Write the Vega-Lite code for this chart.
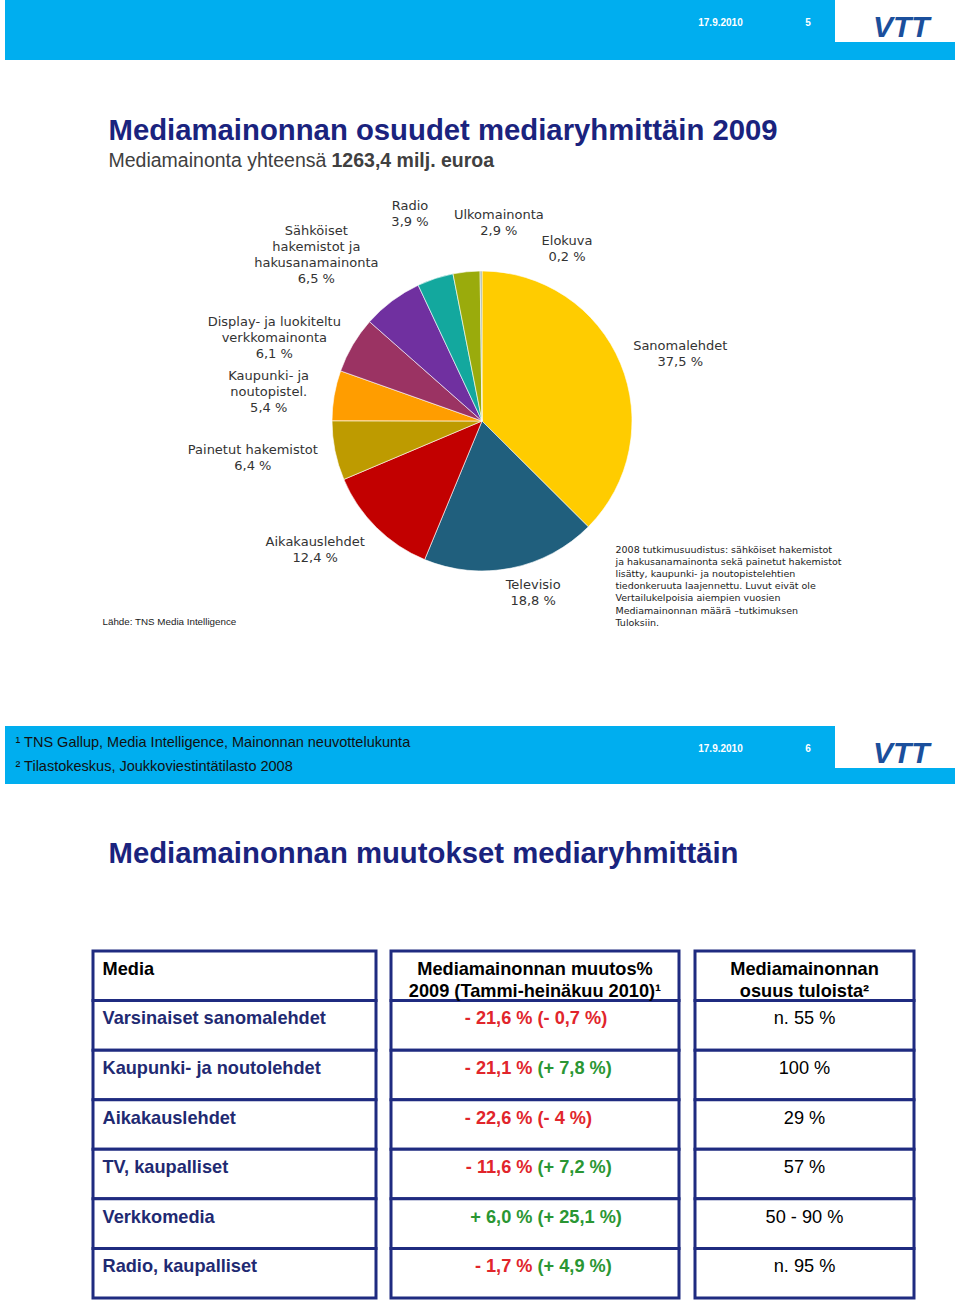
{
"$schema":"https://vega.github.io/schema/vega-lite/v6.json",
"background":"#ffffff",
"padding":{"left":5,"top":0,"right":0,"bottom":0},
"bounds":"flush",
"spacing":0,
"resolve":{"scale":{"color":"independent","opacity":"independent","theta":"independent","y":"independent"}},
"data":{"values":[{}]},
"datasets":{
 "mediaosuudet":[
  {"media":"Sanomalehdet","osuus":37.5,"jarjestys":1,"selite":"Sanomalehdet\n37,5 %"},
  {"media":"Televisio","osuus":18.8,"jarjestys":2,"selite":"Televisio\n18,8 %"},
  {"media":"Aikakauslehdet","osuus":12.4,"jarjestys":3,"selite":"Aikakauslehdet\n12,4 %"},
  {"media":"Painetut hakemistot","osuus":6.4,"jarjestys":4,"selite":"Painetut hakemistot\n6,4 %"},
  {"media":"Kaupunki- ja noutopistel.","osuus":5.4,"jarjestys":5,"selite":"Kaupunki- ja\nnoutopistel.\n5,4 %"},
  {"media":"Display- ja luokiteltu verkkomainonta","osuus":6.1,"jarjestys":6,"selite":"Display- ja luokiteltu\nverkkomainonta\n6,1 %"},
  {"media":"Sähköiset hakemistot ja hakusanamainonta","osuus":6.5,"jarjestys":7,"selite":"Sähköiset\nhakemistot ja\nhakusanamainonta\n6,5 %"},
  {"media":"Radio","osuus":3.9,"jarjestys":8,"selite":"Radio\n3,9 %"},
  {"media":"Ulkomainonta","osuus":2.9,"jarjestys":9,"selite":"Ulkomainonta\n2,9 %"},
  {"media":"Elokuva","osuus":0.2,"jarjestys":10,"selite":"Elokuva\n0,2 %"}
 ],
 "otsikot":[
  {"media":"Media","sarake1":"Media","sarake2":"Mediamainonnan muutos%\n2009 (Tammi-heinäkuu 2010)¹","sarake3":"Mediamainonnan\nosuus tuloista²"}
 ],
 "taulukko":[
  {"media":"Varsinaiset sanomalehdet","muutos2009":"- 21,6 %","suunta2009":"lasku","muutos2010":"(- 0,7 %)","suunta2010":"lasku","osuus":"n. 55 %"},
  {"media":"Kaupunki- ja noutolehdet","muutos2009":"- 21,1 %","suunta2009":"lasku","muutos2010":"(+ 7,8 %)","suunta2010":"kasvu","osuus":"100 %"},
  {"media":"Aikakauslehdet","muutos2009":"- 22,6 %","suunta2009":"lasku","muutos2010":"(- 4 %)","suunta2010":"lasku","osuus":"29 %"},
  {"media":"TV, kaupalliset","muutos2009":"- 11,6 %","suunta2009":"lasku","muutos2010":"(+ 7,2 %)","suunta2010":"kasvu","osuus":"57 %"},
  {"media":"Verkkomedia","muutos2009":"+ 6,0 %","suunta2009":"kasvu","muutos2010":"(+ 25,1 %)","suunta2010":"kasvu","osuus":"50 - 90 %"},
  {"media":"Radio, kaupalliset","muutos2009":"- 1,7 %","suunta2009":"lasku","muutos2010":"(+ 4,9 %)","suunta2010":"kasvu","osuus":"n. 95 %"}
 ]
},
"config":{"view":{"stroke":null},"text":{"font":"Liberation Sans"},"concat":{"spacing":0}},
"vconcat":[
 {"bounds":"flush","spacing":0,"hconcat":[
  {"width":655,"height":42,"view":{"fill":"#00aeef"},"mark":{"type":"text","text":""}},
  {"width":121,"height":45,"view":{"fill":"#00aeef"},"mark":{"type":"text","text":"17.9.2010","fontSize":10,"fontWeight":"bold","color":"#ffffff","align":"center","baseline":"middle"}},
  {"width":54,"height":45,"view":{"fill":"#00aeef"},"mark":{"type":"text","text":"5","fontSize":10,"fontWeight":"bold","color":"#ffffff","align":"center","baseline":"middle"}},
  {"width":3,"height":42,"mark":{"type":"text","text":""}},
  {"width":70,"height":74,"mark":{"type":"text","text":"VTT","fontSize":30,"fontWeight":"bold","fontStyle":"italic","color":"#1b4f9c","align":"left","baseline":"alphabetic"}}
 ]},
 {"width":1,"height":42,"mark":{"type":"text","text":""}},
 {"width":950,"height":18,"view":{"fill":"#00aeef"},"mark":{"type":"text","text":""}},
 {"width":1,"height":60,"mark":{"type":"text","text":""}},
 {"bounds":"flush","spacing":0,"hconcat":[
  {"width":103,"height":40,"mark":{"type":"text","text":""}},
  {"width":1,"height":40,"mark":{"type":"text","text":"Mediamainonnan osuudet mediaryhmittäin 2009","align":"left","baseline":"alphabetic","fontSize":29.3,"fontWeight":"bold","color":"#1a237e"}}
 ]},
 {"width":1,"height":40,"mark":{"type":"text","text":""}},
 {"bounds":"flush","spacing":0,"hconcat":[
  {"width":103,"height":14,"mark":{"type":"text","text":""}},
  {"width":1,"height":14,"mark":{"type":"text","text":"Mediamainonta yhteensä","align":"left","baseline":"alphabetic","fontSize":19.5,"color":"#404040"}},
  {"width":222,"height":14,"mark":{"type":"text","text":""}},
  {"width":1,"height":14,"mark":{"type":"text","text":"1263,4 milj. euroa","align":"left","baseline":"alphabetic","fontSize":19.5,"fontWeight":"bold","color":"#404040"}}
 ]},
 {"width":1,"height":14,"mark":{"type":"text","text":""}},
 {"width":1,"height":246,"mark":{"type":"text","text":""}},
 {"bounds":"flush","spacing":0,"hconcat":[
  {"width":476,"height":2,"mark":{"type":"text","text":""}},
  {
   "width":2,"height":2,
   "data":{"name":"mediaosuudet"},
   "encoding":{
    "theta":{"field":"osuus","type":"quantitative","stack":true},
    "order":{"field":"jarjestys","type":"quantitative"},
    "color":{"field":"media","type":"nominal","legend":null,
      "scale":{"domain":["Sanomalehdet","Televisio","Aikakauslehdet","Painetut hakemistot","Kaupunki- ja noutopistel.","Display- ja luokiteltu verkkomainonta","Sähköiset hakemistot ja hakusanamainonta","Radio","Ulkomainonta","Elokuva"],
               "range":["#ffcc00","#205f7d","#c20000","#be9b00","#ff9d00","#9b3363","#7030a0","#13a89e","#9aab0c","#9fb09f"]}}
   },
   "layer":[
    {"mark":{"type":"arc","radius":150,"stroke":"#ffffff","strokeWidth":0.6}},
    {"mark":{"type":"text","radius":212,"thetaOffset":0.032,"font":"DejaVu Sans","fontSize":13,"lineBreak":"\n","lineHeight":16,"align":"center","baseline":"middle"},
     "encoding":{"text":{"field":"selite"},"color":{"value":"#333333"},"opacity":{"condition":{"test":"datum.media === 'Sanomalehdet'","value":1},"value":0}}},
    {"mark":{"type":"text","radius":172,"thetaOffset":-0.104,"font":"DejaVu Sans","fontSize":13,"lineBreak":"\n","lineHeight":16,"align":"center","baseline":"middle"},
     "encoding":{"text":{"field":"selite"},"color":{"value":"#333333"},"opacity":{"condition":{"test":"datum.media === 'Televisio'","value":1},"value":0}}},
    {"mark":{"type":"text","radius":206,"thetaOffset":0.162,"font":"DejaVu Sans","fontSize":13,"lineBreak":"\n","lineHeight":16,"align":"center","baseline":"middle"},
     "encoding":{"text":{"field":"selite"},"color":{"value":"#333333"},"opacity":{"condition":{"test":"datum.media === 'Aikakauslehdet'","value":1},"value":0}}},
    {"mark":{"type":"text","radius":231,"thetaOffset":0.073,"font":"DejaVu Sans","fontSize":13,"lineBreak":"\n","lineHeight":16,"align":"center","baseline":"middle"},
     "encoding":{"text":{"field":"selite"},"color":{"value":"#333333"},"opacity":{"condition":{"test":"datum.media === 'Painetut hakemistot'","value":1},"value":0}}},
    {"mark":{"type":"text","radius":218,"thetaOffset":0.037,"font":"DejaVu Sans","fontSize":13,"lineBreak":"\n","lineHeight":16,"align":"center","baseline":"middle"},
     "encoding":{"text":{"field":"selite"},"color":{"value":"#333333"},"opacity":{"condition":{"test":"datum.media === 'Kaupunki- ja noutopistel.'","value":1},"value":0}}},
    {"mark":{"type":"text","radius":230,"thetaOffset":-0.088,"font":"DejaVu Sans","fontSize":13,"lineBreak":"\n","lineHeight":16,"align":"center","baseline":"middle"},
     "encoding":{"text":{"field":"selite"},"color":{"value":"#333333"},"opacity":{"condition":{"test":"datum.media === 'Display- ja luokiteltu verkkomainonta'","value":1},"value":0}}},
    {"mark":{"type":"text","radius":252,"thetaOffset":-0.074,"font":"DejaVu Sans","fontSize":13,"lineBreak":"\n","lineHeight":16,"align":"center","baseline":"middle"},
     "encoding":{"text":{"field":"selite"},"color":{"value":"#333333"},"opacity":{"condition":{"test":"datum.media === 'Sähköiset hakemistot ja hakusanamainonta'","value":1},"value":0}}},
    {"mark":{"type":"text","radius":227,"thetaOffset":-0.006,"font":"DejaVu Sans","fontSize":13,"lineBreak":"\n","lineHeight":16,"align":"center","baseline":"middle"},
     "encoding":{"text":{"field":"selite"},"color":{"value":"#333333"},"opacity":{"condition":{"test":"datum.media === 'Radio'","value":1},"value":0}}},
    {"mark":{"type":"text","radius":207,"thetaOffset":0.185,"font":"DejaVu Sans","fontSize":13,"lineBreak":"\n","lineHeight":16,"align":"center","baseline":"middle"},
     "encoding":{"text":{"field":"selite"},"color":{"value":"#333333"},"opacity":{"condition":{"test":"datum.media === 'Ulkomainonta'","value":1},"value":0}}},
    {"mark":{"type":"text","radius":199,"thetaOffset":0.4475,"font":"DejaVu Sans","fontSize":13,"lineBreak":"\n","lineHeight":16,"align":"center","baseline":"middle"},
     "encoding":{"text":{"field":"selite"},"color":{"value":"#333333"},"opacity":{"condition":{"test":"datum.media === 'Elokuva'","value":1},"value":0}}}
   ]
  }
 ]},
 {"width":1,"height":2,"mark":{"type":"text","text":""}},
 {"width":1,"height":118,"mark":{"type":"text","text":""}},
 {"bounds":"flush","spacing":0,"hconcat":[
  {"width":610,"height":20,"mark":{"type":"text","text":""}},
  {"width":1,"height":20,"mark":{"type":"text","text":"2008 tutkimusuudistus: sähköiset hakemistot\nja hakusanamainonta sekä painetut hakemistot\nlisätty, kaupunki- ja noutopistelehtien\ntiedonkeruuta laajennettu. Luvut eivät ole\nVertailukelpoisia aiempien vuosien\nMediamainonnan määrä –tutkimuksen\nTuloksiin.","lineBreak":"\n","lineHeight":12.1,"align":"left","baseline":"middle","font":"DejaVu Sans","fontSize":9.5,"color":"#222222"}}
 ]},
 {"width":1,"height":75,"mark":{"type":"text","text":""}},
 {"bounds":"flush","spacing":0,"hconcat":[
  {"width":97,"height":20,"mark":{"type":"text","text":""}},
  {"width":1,"height":20,"mark":{"type":"text","text":"Lähde: TNS Media Intelligence","align":"left","baseline":"alphabetic","fontSize":9.8,"color":"#222222"}}
 ]},
 {"width":1,"height":111,"mark":{"type":"text","text":""}},
 {"bounds":"flush","spacing":0,"hconcat":[
  {"width":655,"height":42,"view":{"fill":"#00aeef"},"mark":{"type":"text","text":""}},
  {"width":121,"height":45,"view":{"fill":"#00aeef"},"mark":{"type":"text","text":"17.9.2010","fontSize":10,"fontWeight":"bold","color":"#ffffff","align":"center","baseline":"middle"}},
  {"width":54,"height":45,"view":{"fill":"#00aeef"},"mark":{"type":"text","text":"6","fontSize":10,"fontWeight":"bold","color":"#ffffff","align":"center","baseline":"middle"}},
  {"width":3,"height":42,"mark":{"type":"text","text":""}},
  {"width":70,"height":74,"mark":{"type":"text","text":"VTT","fontSize":30,"fontWeight":"bold","fontStyle":"italic","color":"#1b4f9c","align":"left","baseline":"alphabetic"}}
 ]},
 {"bounds":"flush","spacing":0,"hconcat":[
  {"width":10,"height":42,"mark":{"type":"text","text":""}},
  {"width":1,"height":42,"mark":{"type":"text","text":"¹ TNS Gallup, Media Intelligence, Mainonnan neuvottelukunta","align":"left","baseline":"alphabetic","fontSize":14.5,"color":"#111111"}}
 ]},
 {"width":1,"height":42,"mark":{"type":"text","text":""}},
 {"bounds":"flush","spacing":0,"hconcat":[
  {"width":950,"height":16,"view":{"fill":"#00aeef"},"mark":{"type":"text","text":""}}
 ]},
 {"bounds":"flush","spacing":0,"hconcat":[
  {"width":10,"height":12,"mark":{"type":"text","text":""}},
  {"width":1,"height":12,"mark":{"type":"text","text":"² Tilastokeskus, Joukkoviestintätilasto 2008","align":"left","baseline":"bottom","fontSize":14.5,"color":"#111111"}}
 ]},
 {"width":1,"height":16,"mark":{"type":"text","text":""}},
 {"width":1,"height":59,"mark":{"type":"text","text":""}},
 {"bounds":"flush","spacing":0,"hconcat":[
  {"width":103,"height":40,"mark":{"type":"text","text":""}},
  {"width":1,"height":40,"mark":{"type":"text","text":"Mediamainonnan muutokset mediaryhmittäin","align":"left","baseline":"alphabetic","fontSize":29.3,"fontWeight":"bold","color":"#1a237e"}}
 ]},
 {"width":1,"height":40,"mark":{"type":"text","text":""}},
 {"width":1,"height":68,"mark":{"type":"text","text":""}},
 {"bounds":"flush","spacing":0,"resolve":{"scale":{"color":"independent","y":"independent"}},"hconcat":[
  {"width":88,"height":347,"mark":{"type":"text","text":""}},
  {
   "width":283,"height":347,
   "encoding":{"y":{"field":"media","type":"nominal","axis":null,"scale":{"type":"band","domain":["Media","Varsinaiset sanomalehdet","Kaupunki- ja noutolehdet","Aikakauslehdet","TV, kaupalliset","Verkkomedia","Radio, kaupalliset"],"paddingInner":0,"paddingOuter":0}}},
   "layer":[
    {"data":{"name":"otsikot"},"mark":{"type":"rect","fill":"#ffffff","stroke":"#1f2b80","strokeWidth":3}},
    {"data":{"name":"taulukko"},"mark":{"type":"rect","fill":"#ffffff","stroke":"#1f2b80","strokeWidth":3}}
   ]
  },
  {"width":15,"height":347,"mark":{"type":"text","text":""}},
  {
   "width":288,"height":347,
   "encoding":{"y":{"field":"media","type":"nominal","axis":null,"scale":{"type":"band","domain":["Media","Varsinaiset sanomalehdet","Kaupunki- ja noutolehdet","Aikakauslehdet","TV, kaupalliset","Verkkomedia","Radio, kaupalliset"],"paddingInner":0,"paddingOuter":0}}},
   "layer":[
    {"data":{"name":"otsikot"},"mark":{"type":"rect","fill":"#ffffff","stroke":"#1f2b80","strokeWidth":3}},
    {"data":{"name":"taulukko"},"mark":{"type":"rect","fill":"#ffffff","stroke":"#1f2b80","strokeWidth":3}},
    {"data":{"name":"otsikot"},"mark":{"type":"text","align":"center","baseline":"top","fontSize":18.2,"fontWeight":"bold","color":"#000000","lineBreak":"\n","lineHeight":22},
     "encoding":{"text":{"field":"sarake2"},"y":{"field":"media","type":"nominal","axis":null,"bandPosition":0.2}}},
    {"data":{"name":"taulukko"},"mark":{"type":"text","align":"right","baseline":"top","fontSize":18.2,"fontWeight":"bold","dx":-2.5},
     "encoding":{"text":{"field":"muutos2009"},"y":{"field":"media","type":"nominal","axis":null,"bandPosition":0.2},
                 "color":{"field":"suunta2009","type":"nominal","legend":null,"scale":{"domain":["lasku","kasvu"],"range":["#e1252b","#2a9633"]}}}},
    {"data":{"name":"taulukko"},"mark":{"type":"text","align":"left","baseline":"top","fontSize":18.2,"fontWeight":"bold","dx":2.5},
     "encoding":{"text":{"field":"muutos2010"},"y":{"field":"media","type":"nominal","axis":null,"bandPosition":0.2},
                 "color":{"field":"suunta2010","type":"nominal","legend":null,"scale":{"domain":["lasku","kasvu"],"range":["#e1252b","#2a9633"]}}}}
   ]
  },
  {"width":16,"height":347,"mark":{"type":"text","text":""}},
  {
   "width":219,"height":347,
   "encoding":{"y":{"field":"media","type":"nominal","axis":null,"scale":{"type":"band","domain":["Media","Varsinaiset sanomalehdet","Kaupunki- ja noutolehdet","Aikakauslehdet","TV, kaupalliset","Verkkomedia","Radio, kaupalliset"],"paddingInner":0,"paddingOuter":0}}},
   "layer":[
    {"data":{"name":"otsikot"},"mark":{"type":"rect","fill":"#ffffff","stroke":"#1f2b80","strokeWidth":3}},
    {"data":{"name":"taulukko"},"mark":{"type":"rect","fill":"#ffffff","stroke":"#1f2b80","strokeWidth":3}},
    {"data":{"name":"otsikot"},"mark":{"type":"text","align":"center","baseline":"top","fontSize":18.2,"fontWeight":"bold","color":"#000000","lineBreak":"\n","lineHeight":22},
     "encoding":{"text":{"field":"sarake3"},"y":{"field":"media","type":"nominal","axis":null,"bandPosition":0.2}}},
    {"data":{"name":"taulukko"},"mark":{"type":"text","align":"center","baseline":"top","fontSize":18.2,"color":"#000000"},
     "encoding":{"text":{"field":"osuus"},"y":{"field":"media","type":"nominal","axis":null,"bandPosition":0.2}}}
   ]
  }
 ]},
 {"bounds":"flush","spacing":0,"hconcat":[
  {"width":97,"height":347,"mark":{"type":"text","text":""}},
  {
   "width":1,"height":347,
   "layer":[
    {"data":{"name":"otsikot"},"mark":{"type":"text","align":"left","baseline":"top","fontSize":18.2,"fontWeight":"bold","color":"#000000"},
     "encoding":{"text":{"field":"sarake1"},"y":{"field":"media","type":"nominal","axis":null,"bandPosition":0.2,"scale":{"type":"band","domain":["Media","Varsinaiset sanomalehdet","Kaupunki- ja noutolehdet","Aikakauslehdet","TV, kaupalliset","Verkkomedia","Radio, kaupalliset"],"paddingInner":0,"paddingOuter":0}}}},
    {"data":{"name":"taulukko"},"mark":{"type":"text","align":"left","baseline":"top","fontSize":18.2,"fontWeight":"bold","color":"#1f2a72"},
     "encoding":{"text":{"field":"media"},"y":{"field":"media","type":"nominal","axis":null,"bandPosition":0.2}}}
   ]
  }
 ]}
]
}
